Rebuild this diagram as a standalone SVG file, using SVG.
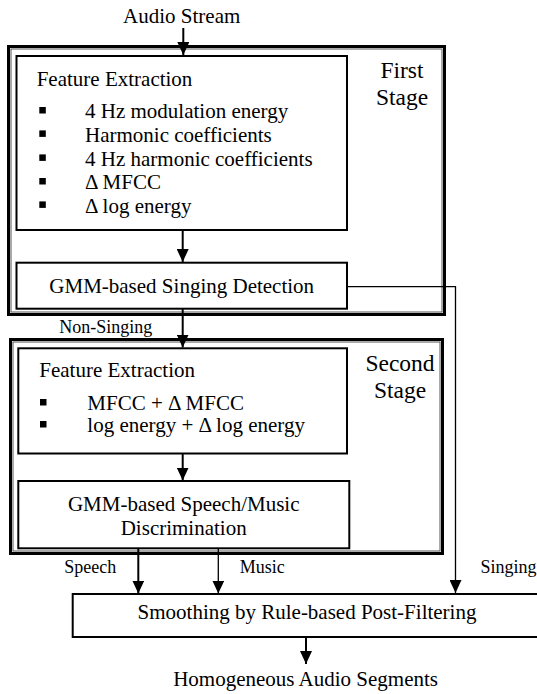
<svg xmlns="http://www.w3.org/2000/svg" width="537" height="694" viewBox="0 0 537 694">
<style>
text{font-family:"Liberation Serif","Times New Roman",serif;fill:#000}
.t{font-size:21px}
.l{font-size:18px}
.s{font-size:23.5px}
.c{text-anchor:middle}
.box{fill:none;stroke:#000;stroke-width:2}
.stage{fill:none;stroke:#000;stroke-width:3}
.stagein{fill:none;stroke:#555;stroke-width:1}
.bul{fill:#000}
.ln{fill:none;stroke:#000;stroke-width:2}
.thin{fill:none;stroke:#000;stroke-width:1.3}
</style>
<defs>
<marker id="ah" markerUnits="userSpaceOnUse" markerWidth="14" markerHeight="12" refX="13" refY="6" orient="auto" viewBox="0 0 14 12">
<path d="M0,0 L13,6 L0,12 Z" fill="#000"/>
</marker>
</defs>
<g id="first-stage">
<rect class="stage" x="8.5" y="46.5" width="436" height="268"/>
<rect class="stagein" x="11" y="49" width="431" height="263"/>
<text class="s c" x="402" y="78.3">First</text>
<text class="s c" x="402" y="105">Stage</text>
</g>
<g id="second-stage">
<rect class="stage" x="10.5" y="339.5" width="432" height="214"/>
<rect class="stagein" x="13" y="342" width="427" height="209"/>
<text class="s c" x="400" y="371">Second</text>
<text class="s c" x="400" y="398">Stage</text>
</g>
<g id="feature-extraction-1">
<rect class="box" x="16.5" y="56" width="330.5" height="174"/>
<text class="t" x="36.7" y="86">Feature Extraction</text>
<rect class="bul" x="39.3" y="107" width="6.5" height="6.5"/>
<text class="t" x="85" y="118.3">4 Hz modulation energy</text>
<rect class="bul" x="39.3" y="130.4" width="6.5" height="6.5"/>
<text class="t" x="85" y="141.7">Harmonic coefficients</text>
<rect class="bul" x="39.3" y="154.4" width="6.5" height="6.5"/>
<text class="t" x="85" y="165.7">4 Hz harmonic coefficients</text>
<rect class="bul" x="39.3" y="178" width="6.5" height="6.5"/>
<text class="t" x="85" y="189.3">Δ MFCC</text>
<rect class="bul" x="39.3" y="201.4" width="6.5" height="6.5"/>
<text class="t" x="85" y="212.7">Δ log energy</text>
</g>
<g id="gmm-singing">
<rect class="box" x="16.5" y="262.7" width="330.5" height="46"/>
<text class="t c" x="181.7" y="293.3">GMM-based Singing Detection</text>
</g>
<g id="feature-extraction-2">
<rect class="box" x="18.3" y="348.3" width="328.7" height="105.2"/>
<text class="t" x="39.3" y="377">Feature Extraction</text>
<rect class="bul" x="40" y="399" width="6.5" height="6.5"/>
<text class="t" x="87.3" y="410">MFCC + Δ MFCC</text>
<rect class="bul" x="40" y="421" width="6.5" height="6.5"/>
<text class="t" x="87.3" y="432">log energy + Δ log energy</text>
</g>
<g id="gmm-speech-music">
<rect class="box" x="18.3" y="481" width="331" height="67.3"/>
<text class="t c" x="183.7" y="510.7">GMM-based Speech/Music</text>
<text class="t c" x="183.7" y="535">Discrimination</text>
</g>
<g id="smoothing">
<rect class="box" x="72.7" y="594" width="470" height="43"/>
<text class="t c" x="307" y="619">Smoothing by Rule-based Post-Filtering</text>
</g>
<g id="io-labels">
<text class="t c" x="181.7" y="22.7">Audio Stream</text>
<text class="t c" x="305.6" y="686">Homogeneous Audio Segments</text>
</g>
<g id="connectors">
<line class="ln" x1="183.3" y1="28" x2="183.3" y2="55" marker-end="url(#ah)"/>
<line class="ln" x1="182.7" y1="230" x2="182.7" y2="262" marker-end="url(#ah)"/>
<line class="ln" x1="182.7" y1="308.7" x2="182.7" y2="347.5" marker-end="url(#ah)"/>
<text class="l" x="59.3" y="333.3">Non-Singing</text>
<line class="ln" x1="182.7" y1="453.5" x2="182.7" y2="480.5" marker-end="url(#ah)"/>
<line class="ln" x1="138.3" y1="548.3" x2="138.3" y2="593.5" marker-end="url(#ah)"/>
<text class="l" x="64.3" y="573">Speech</text>
<line class="thin" x1="218.3" y1="548.3" x2="218.3" y2="593.5" marker-end="url(#ah)"/>
<text class="l" x="239.7" y="573">Music</text>
<polyline class="thin" points="347,286.7 455.5,286.7 455.5,593" marker-end="url(#ah)"/>
<text class="l" x="480.5" y="573">Singing</text>
<line class="ln" x1="306" y1="637" x2="306" y2="664" marker-end="url(#ah)"/>
</g>
</svg>
